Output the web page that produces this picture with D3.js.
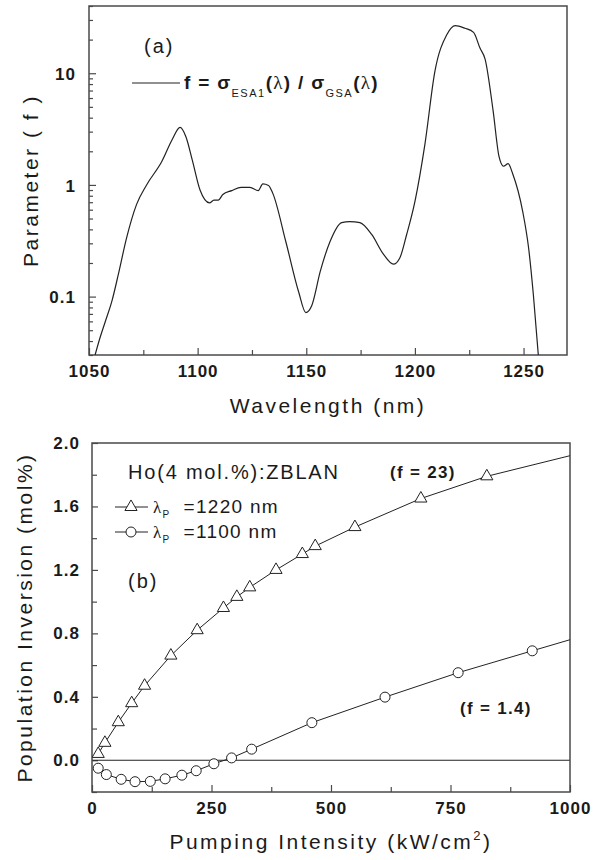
<!DOCTYPE html>
<html>
<head>
<meta charset="utf-8">
<script src="https://cdn.jsdelivr.net/npm/d3@7"></script>
<style>
  body { margin: 0; background: #fff; }
  svg { display: block; }
  text { font-family: "Liberation Sans", Arial, sans-serif; fill: #1a1a1a; }
</style>
</head>
<body>
<svg id="fig" width="602" height="860"></svg>
<script>
// ---- (a) ratio f = sigma_ESA1 / sigma_GSA versus wavelength ----
const wavelengthNm = [1052.8,1055.1,1057.4,1060.6,1063.5,1067.3,1071.9,1076.5,1083.5,1088.3,
  1091.9,1094.6,1097.6,1101.1,1105.5,1107.5,1109.5,1111.6,1115.7,1120.0,1124.1,1127.9,1130.0,
  1132.6,1134.6,1140.6,1146.5,1149.8,1152.5,1156.5,1160.9,1166.3,1170.0,1174.7,1180.1,1185.5,
  1190.1,1193.1,1196.2,1200.0,1204.6,1209.2,1214.6,1218.6,1223.0,1227.0,1230.0,1232.3,1236.0,
  1238.7,1240.8,1242.9,1245.0,1249.6,1252.3,1254.5,1256.8];
const ratioF = [0.030,0.043,0.059,0.092,0.158,0.336,0.67,1.00,1.62,2.55,
  3.27,2.70,1.65,0.90,0.69,0.73,0.73,0.82,0.89,0.95,0.95,0.89,1.02,
  0.99,0.84,0.31,0.11,0.072,0.083,0.17,0.31,0.46,0.47,0.46,0.36,0.24,
  0.195,0.223,0.36,0.71,2.31,10.4,22.0,26.7,25.3,23.2,16.7,13.4,4.6,
  1.80,1.47,1.55,1.26,0.58,0.275,0.105,0.030];
const waveDomain = [1050, 1270];
const waveMajorTicks = [1050, 1100, 1150, 1200, 1250];
const waveMinorTicks = [1075, 1125, 1175, 1225];
const fDomain = [0.03, 40];
const fTickLabels = [0.1, 1, 10];

// ---- (b) population inversion versus pumping intensity ----
const intensity1220 = [13,27,55,83,110,165,220,275,303,330,385,440,467,550,688,826];
const inversion1220 = [0.04,0.11,0.24,0.36,0.47,0.66,0.82,0.96,1.03,1.09,1.20,1.30,1.35,1.47,1.65,1.79];
const intensity1100 = [13,30,61,90,122,153,188,218,255,292,334,460,613,766,921];
const inversion1100 = [-0.05,-0.09,-0.12,-0.135,-0.133,-0.117,-0.094,-0.066,-0.022,0.015,0.07,0.237,0.398,0.552,0.69];
// the calculated curves run on to the frame edge past the last marker
const curveEnd1220 = [1000, 1.92];
const curveEnd1100 = [1000, 0.76];
const intensityDomain = [0, 1000];
const intensityMajorTicks = [0, 250, 500, 750, 1000];
const intensityMinorTicks = [125, 375, 625, 875];
const inversionDomain = [-0.2, 2.0];
const inversionMajorTicks = [0.0, 0.4, 0.8, 1.2, 1.6, 2.0];
const inversionMinorTicks = [-0.2, 0.2, 0.6, 1.0, 1.4, 1.8];

const svg = d3.select("#fig");
svg.append("rect").attr("width", 602).attr("height", 860).attr("fill", "#fff");

const INK = "#222";
const FRAME = "#4a4a4a";

function styleAxis(g, bold) {
  g.select(".domain").remove();
  g.selectAll(".tick line").attr("stroke", FRAME).attr("stroke-width", 1.2);
  g.selectAll(".tick text")
    .attr("font-size", 17)
    .attr("font-weight", bold ? "bold" : "normal")
    .attr("letter-spacing", "1px")
    .attr("fill", "#1a1a1a")
    .style("font-family", '"Liberation Sans", Arial, sans-serif');
}

// ================= Panel (a) =================
const A = { left: 89, right: 567, top: 6, bottom: 355 };
const xA = d3.scaleLinear().domain(waveDomain).range([A.left, A.right]);
const yA = d3.scaleLog().domain(fDomain).range([A.bottom, A.top]);

const gA = svg.append("g");
gA.append("clipPath").attr("id", "clipA")
  .append("rect").attr("x", A.left).attr("y", A.top)
  .attr("width", A.right - A.left).attr("height", A.bottom - A.top);

// bottom axis, ticks pointing into the frame
gA.append("g").attr("transform", `translate(0,${A.bottom})`)
  .call(d3.axisBottom(xA).tickValues(waveMajorTicks).tickFormat(d3.format("d"))
    .tickSizeInner(-7).tickSizeOuter(0).tickPadding(10))
  .call(g => styleAxis(g, true));
gA.append("g").attr("transform", `translate(0,${A.bottom})`)
  .call(d3.axisBottom(xA).tickValues(waveMinorTicks).tickFormat("")
    .tickSizeInner(-5).tickSizeOuter(0))
  .call(g => styleAxis(g, true));

// left log axis
gA.append("g").attr("transform", `translate(${A.left},0)`)
  .call(d3.axisLeft(yA).tickValues(fTickLabels).tickFormat(d => String(d))
    .tickSizeInner(-7).tickSizeOuter(0).tickPadding(13))
  .call(g => styleAxis(g, true))
  .call(g => g.selectAll(".tick text").attr("dy", "0.36em"));
const fMinor = yA.ticks().filter(v => !fTickLabels.some(t => Math.abs(t - v) < 1e-9));
gA.append("g").attr("transform", `translate(${A.left},0)`)
  .call(d3.axisLeft(yA).tickValues(fMinor).tickFormat("")
    .tickSizeInner(-4).tickSizeOuter(0))
  .call(g => styleAxis(g, true));

// frame
gA.append("rect").attr("x", A.left).attr("y", A.top)
  .attr("width", A.right - A.left).attr("height", A.bottom - A.top)
  .attr("fill", "none").attr("stroke", FRAME).attr("stroke-width", 1.5);

// ratio curve
const lineA = d3.line().x(d => xA(d[0])).y(d => yA(d[1])).curve(d3.curveMonotoneX);
gA.append("path")
  .datum(d3.zip(wavelengthNm, ratioF))
  .attr("clip-path", "url(#clipA)")
  .attr("d", lineA)
  .attr("fill", "none").attr("stroke", INK).attr("stroke-width", 1.2);

// labels
gA.append("text").attr("x", (A.left + A.right) / 2).attr("y", 413)
  .attr("text-anchor", "middle").attr("font-size", 21).attr("letter-spacing", "2.5px")
  .text("Wavelength (nm)");
gA.append("text").attr("transform", `translate(38,${(A.top + A.bottom) / 2}) rotate(-90)`)
  .attr("text-anchor", "middle").attr("font-size", 21).attr("letter-spacing", "2.5px")
  .text("Parameter ( f )");
gA.append("text").attr("x", 144).attr("y", 53).attr("font-size", 20).attr("letter-spacing", "2px")
  .text("(a)");

// legend: f = sigma_ESA1(lambda) / sigma_GSA(lambda)
gA.append("line").attr("x1", 132).attr("x2", 180).attr("y1", 83).attr("y2", 83)
  .attr("stroke", INK).attr("stroke-width", 1.2);
const leg = gA.append("text").attr("x", 184).attr("y", 89).attr("font-size", 19)
  .attr("font-weight", "bold").attr("letter-spacing", "1.3px");
leg.append("tspan").text("f = σ");
leg.append("tspan").attr("font-size", 11).attr("font-weight", "normal").attr("dy", 8)
  .attr("letter-spacing", "1.5px").text("ESA1");
leg.append("tspan").attr("dy", -8).text("(");
leg.append("tspan").style("font-family", '"Liberation Serif", serif').attr("font-weight", "normal").text("λ");
leg.append("tspan").text(") / σ");
leg.append("tspan").attr("font-size", 11).attr("font-weight", "normal").attr("dy", 8)
  .attr("letter-spacing", "1.5px").text("GSA");
leg.append("tspan").attr("dy", -8).text("(");
leg.append("tspan").style("font-family", '"Liberation Serif", serif').attr("font-weight", "normal").text("λ");
leg.append("tspan").text(")");

// ================= Panel (b) =================
const B = { left: 92, right: 570, top: 443, bottom: 792 };
const xB = d3.scaleLinear().domain(intensityDomain).range([B.left, B.right]);
const yB = d3.scaleLinear().domain(inversionDomain).range([B.bottom, B.top]);

const gB = svg.append("g");
gB.append("clipPath").attr("id", "clipB")
  .append("rect").attr("x", B.left).attr("y", B.top)
  .attr("width", B.right - B.left).attr("height", B.bottom - B.top);

gB.append("g").attr("transform", `translate(0,${B.bottom})`)
  .call(d3.axisBottom(xB).tickValues(intensityMajorTicks).tickFormat(d3.format("d"))
    .tickSizeInner(-7).tickSizeOuter(0).tickPadding(10))
  .call(g => styleAxis(g, true));
gB.append("g").attr("transform", `translate(0,${B.bottom})`)
  .call(d3.axisBottom(xB).tickValues(intensityMinorTicks).tickFormat("")
    .tickSizeInner(-5).tickSizeOuter(0))
  .call(g => styleAxis(g, true));

gB.append("g").attr("transform", `translate(${B.left},0)`)
  .call(d3.axisLeft(yB).tickValues(inversionMajorTicks).tickFormat(d3.format(".1f"))
    .tickSizeInner(-6).tickSizeOuter(0).tickPadding(12))
  .call(g => styleAxis(g, true));
gB.append("g").attr("transform", `translate(${B.left},0)`)
  .call(d3.axisLeft(yB).tickValues(inversionMinorTicks).tickFormat("")
    .tickSizeInner(-5).tickSizeOuter(0))
  .call(g => styleAxis(g, true));

// zero reference line
gB.append("line").attr("x1", B.left).attr("x2", B.right)
  .attr("y1", yB(0)).attr("y2", yB(0))
  .attr("stroke", INK).attr("stroke-width", 1.1);

gB.append("rect").attr("x", B.left).attr("y", B.top)
  .attr("width", B.right - B.left).attr("height", B.bottom - B.top)
  .attr("fill", "none").attr("stroke", FRAME).attr("stroke-width", 1.5);

const lineB = d3.line().x(d => xB(d[0])).y(d => yB(d[1]));
const pts1220 = d3.zip(intensity1220, inversion1220);
const pts1100 = d3.zip(intensity1100, inversion1100);

const plotB = gB.append("g").attr("clip-path", "url(#clipB)");
plotB.append("path").datum(pts1220.concat([curveEnd1220])).attr("d", lineB)
  .attr("fill", "none").attr("stroke", INK).attr("stroke-width", 1);
plotB.append("path").datum(pts1100.concat([curveEnd1100])).attr("d", lineB)
  .attr("fill", "none").attr("stroke", INK).attr("stroke-width", 1);

const tri = d3.symbol().type(d3.symbolTriangle).size(64);
plotB.selectAll("path.tri").data(pts1220).join("path").attr("class", "tri")
  .attr("transform", d => `translate(${xB(d[0])},${yB(d[1])})`)
  .attr("d", tri).attr("fill", "#fff").attr("stroke", INK).attr("stroke-width", 1);
plotB.selectAll("circle.cir").data(pts1100).join("circle").attr("class", "cir")
  .attr("cx", d => xB(d[0])).attr("cy", d => yB(d[1])).attr("r", 5)
  .attr("fill", "#fff").attr("stroke", INK).attr("stroke-width", 1);

// axis titles
gB.append("text").attr("transform", `translate(32,${(B.top + B.bottom) / 2}) rotate(-90)`)
  .attr("text-anchor", "middle").attr("font-size", 21).attr("letter-spacing", "2.5px")
  .text("Population Inversion (mol%)");
const xt = gB.append("text").attr("x", (B.left + B.right) / 2).attr("y", 849)
  .attr("text-anchor", "middle").attr("font-size", 21).attr("letter-spacing", "2.5px");
xt.append("tspan").text("Pumping Intensity (kW/cm");
xt.append("tspan").attr("font-size", 13).attr("dy", -9).text("2");
xt.append("tspan").attr("dy", 9).text(")");

// annotations
gB.append("text").attr("x", 128).attr("y", 479).attr("font-size", 20).attr("letter-spacing", "1.8px")
  .text("Ho(4 mol.%):ZBLAN");
gB.append("text").attr("x", 128).attr("y", 588).attr("font-size", 20).attr("letter-spacing", "2px")
  .text("(b)");
gB.append("text").attr("x", 390).attr("y", 478).attr("font-size", 17).attr("font-weight", "bold")
  .attr("letter-spacing", "1.3px").text("(f = 23)");
gB.append("text").attr("x", 460).attr("y", 714).attr("font-size", 17).attr("font-weight", "bold")
  .attr("letter-spacing", "1.3px").text("(f = 1.4)");

// legend
const legendRows = [
  { y: 507, label: "=1220 nm", marker: "tri" },
  { y: 532, label: "=1100 nm", marker: "cir" }
];
legendRows.forEach(r => {
  gB.append("line").attr("x1", 115).attr("x2", 148).attr("y1", r.y).attr("y2", r.y)
    .attr("stroke", INK).attr("stroke-width", 1);
  if (r.marker === "tri") {
    gB.append("path").attr("transform", `translate(131,${r.y})`).attr("d", tri)
      .attr("fill", "#fff").attr("stroke", INK).attr("stroke-width", 1);
  } else {
    gB.append("circle").attr("cx", 131).attr("cy", r.y).attr("r", 5)
      .attr("fill", "#fff").attr("stroke", INK).attr("stroke-width", 1);
  }
  const t = gB.append("text").attr("x", 153).attr("y", r.y + 6).attr("font-size", 19)
    .attr("letter-spacing", "1.3px");
  t.append("tspan").style("font-family", '"Liberation Serif", serif').attr("font-size", 17).text("λ");
  t.append("tspan").attr("font-size", 10).attr("dy", 5).text("P");
  t.append("tspan").attr("dy", -5).attr("dx", 13).text(r.label);
});
</script>
</body>
</html>
